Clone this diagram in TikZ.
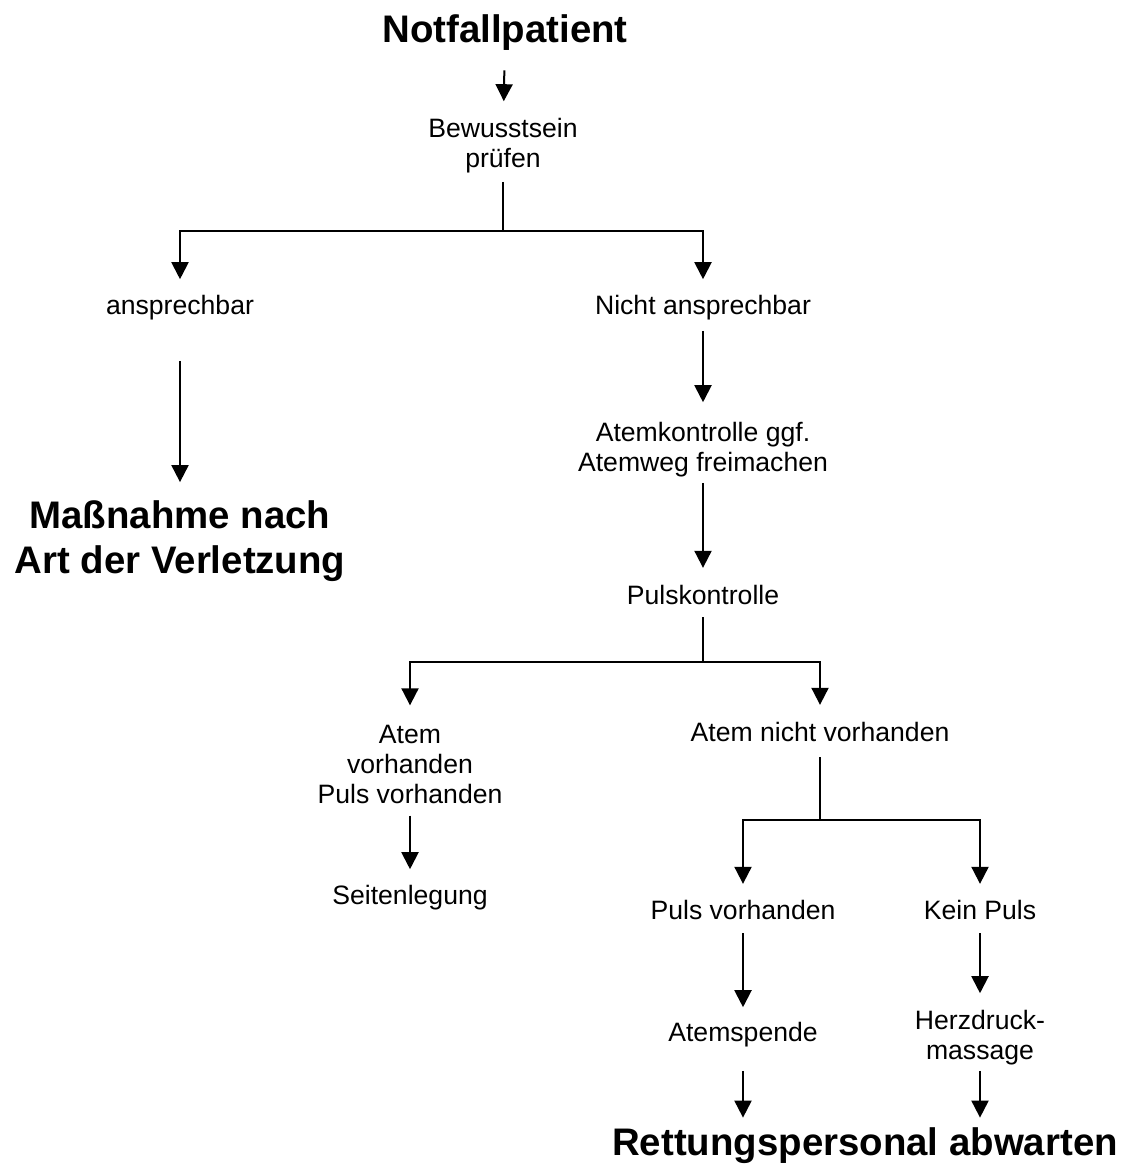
\documentclass[tikz,border=0pt]{standalone}
\usepackage{fontspec}
\setmainfont{Liberation Sans}
\usepackage{tikz}
\usetikzlibrary{arrows.meta,positioning}

\begin{document}
\begin{tikzpicture}[x=0.5pt,y=-0.5pt]
                \tikzstyle{txt} = [inner sep=0pt, align=center, font=\fontsize{13.3}{15}\selectfont]
                \tikzstyle{big} = [inner sep=0pt, align=center, font=\bfseries\fontsize{19.2}{22.5}\selectfont]
                \tikzstyle{line} = [line width=1pt]
                \tikzstyle{arrow} = [line width=1pt, -{Triangle[length=8.5pt,width=8.5pt]}]
                \useasboundingbox (0,0) rectangle (1132,1171);

                \node (notf) [big] at (505,33) {Notfallpatient};
                \node (bew) [txt] at (503,146) {Bewusstsein\\prüfen};
                \node (ans) [txt] at (180,308) {ansprechbar};
                \node (nans) [txt] at (703,308) {Nicht ansprechbar};
                \node (mass) [big] at (180,541) {Maßnahme nach\\Art der Verletzung};
                \node (atk) [txt] at (703,450) {Atemkontrolle ggf.\\Atemweg freimachen};
                \node (puls) [txt] at (703,595) {Pulskontrolle};
                \node (avph) [txt] at (410,764) {Atem\\vorhanden\\Puls vorhanden};
                \node (anv) [txt] at (820,732) {Atem nicht vorhanden};
                \node (seit) [txt] at (410,898) {Seitenlegung};
                \node (pv) [txt] at (743,910) {Puls vorhanden};
                \node (kp) [txt] at (980,910) {Kein Puls};
                \node (asp) [txt] at (743,1035) {Atemspende};
                \node (hdm) [txt] at (980,1038) {Herzdruck-\\massage};
                \node (rett) [big] at (865,1146) {Rettungspersonal abwarten};

                % branch points
                \coordinate (j1) at (503,231);
                \coordinate (j2) at (703,662);
                \coordinate (j3) at (820,820);

                \draw [arrow, shorten <=9.5pt, shorten >=8.5pt] (notf) -- (bew);
                \draw [line, shorten <=4pt] (bew) -- (j1);
                \draw [arrow, shorten >=8pt] (j1) -| (ans);
                \draw [arrow, shorten >=8pt] (j1) -| (nans);
                \draw [arrow, shorten <=20pt, shorten >=9pt] (ans) -- (mass);
                \draw [arrow, shorten <=5pt, shorten >=10pt] (nans) -- (atk);
                \draw [arrow, shorten <=2.5pt, shorten >=8.5pt] (atk) -- (puls);
                \draw [line, shorten <=6pt] (puls) -- (j2);
                \draw [arrow, shorten >=9.5pt] (j2) -| (avph);
                \draw [arrow, shorten >=8.5pt] (j2) -| (anv);
                \draw [arrow, shorten <=6pt, shorten >=8pt] (avph) -- (seit);
                \draw [line, shorten <=7.5pt] (anv) -- (j3);
                \draw [arrow, shorten >=8pt] (j3) -| (pv);
                \draw [arrow, shorten >=8pt] (j3) -| (kp);
                \draw [arrow, shorten <=6.5pt, shorten >=7.5pt] (pv) -- (asp);
                \draw [arrow, shorten <=6.5pt, shorten >=8.5pt] (kp) -- (hdm);
                \draw [arrow, shorten <=11.5pt, shorten >=5pt] (asp) -- (asp |- rett.north);
                \draw [arrow, shorten <=2.5pt, shorten >=5pt] (hdm) -- (hdm |- rett.north);
\end{tikzpicture}
\end{document}
